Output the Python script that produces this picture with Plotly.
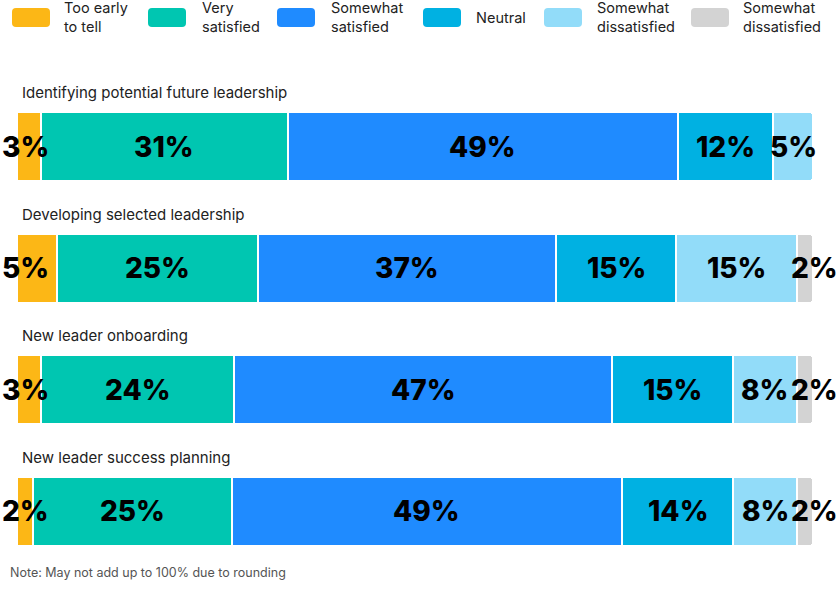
import numpy as np
import plotly.graph_objects as go

categories = ["Identifying potential future leadership",
              "Developing selected leadership",
              "New leader onboarding",
              "New leader success planning"]
series_names = ["Too early<br>to tell", "Very<br>satisfied", "Somewhat<br>satisfied",
                "Neutral", "Somewhat<br>dissatisfied", "Somewhat<br>dissatisfied"]
too_early = [3, 5, 3, 2]
very_satisfied = [31, 25, 24, 25]
somewhat_satisfied = [49, 37, 47, 49]
neutral = [12, 15, 15, 14]
somewhat_dissatisfied = [5, 15, 8, 8]
dissatisfied = [0, 2, 2, 2]
colors = ["#FCB716", "#00C6B1", "#1F8BFF", "#00B1E2", "#92DCF9", "#D3D3D3"]
note = "Note: May not add up to 100% due to rounding"

series = [too_early, very_satisfied, somewhat_satisfied, neutral,
          somewhat_dissatisfied, dissatisfied]
vals = np.array(series, dtype=float)
totals = vals.sum(axis=0)
norm = vals / totals * 100

FONT = "Inter"
fig = go.Figure()
for i, name in enumerate(series_names):
    xs = [v if v > 0 else None for v in norm[i]]
    fig.add_trace(go.Bar(
        y=categories, x=xs, orientation="h", name=name.replace("<br>", " "),
        marker=dict(color=colors[i], line=dict(color="white", width=2)),
        hoverinfo="skip", showlegend=False, width=0.57))

annotations = []
cum = np.zeros(len(categories))
for i in range(len(series)):
    for j, cat in enumerate(categories):
        v = series[i][j]
        if v > 0:
            lab = dict(text=f"{v}%", yref="y", y=cat, xref="x", showarrow=False,
                       font=dict(family=FONT, size=28, color="#000", weight=800),
                       yanchor="middle")
            if i == 0:
                lab.update(x=0, xanchor="left", xshift=-17)
            elif i == len(series) - 1:
                lab.update(x=100, xanchor="right", xshift=27)
            else:
                lab.update(x=cum[j] + norm[i][j] / 2, xanchor="center")
            annotations.append(lab)
    cum += norm[i]

for cat in categories:
    annotations.append(dict(text=cat, xref="x", x=0, xanchor="left", xshift=3,
                            yref="y", y=cat, yanchor="middle", yshift=54,
                            showarrow=False,
                            font=dict(family=FONT, size=15, color="#222")))

annotations.append(dict(text=note, xref="paper", x=-9 / 796, xanchor="left",
                        yref="paper", y=0, yanchor="middle", yshift=0, showarrow=False,
                        font=dict(family=FONT, size=12.5, color="#555")))

# custom legend
shapes = []
box_x = [12, 148, 277, 423, 544, 691]
text_x = [62, 200, 329, 474, 595, 741]
W, H = 840, 596
ml, mr, mt, mb = 17, 27, 86, 24
pw, ph = W - ml - mr, H - mt - mb
def px(x):
    return (x - ml) / pw
def py(y):
    return 1 - (y - mt) / ph
for i, name in enumerate(series_names):
    x0, x1, y0, y1 = box_x[i], box_x[i] + 38, 8, 27
    r = 4
    path = (f"M {px(x0+r)},{py(y0)} L {px(x1-r)},{py(y0)} Q {px(x1)},{py(y0)} {px(x1)},{py(y0+r)} "
            f"L {px(x1)},{py(y1-r)} Q {px(x1)},{py(y1)} {px(x1-r)},{py(y1)} "
            f"L {px(x0+r)},{py(y1)} Q {px(x0)},{py(y1)} {px(x0)},{py(y1-r)} "
            f"L {px(x0)},{py(y0+r)} Q {px(x0)},{py(y0)} {px(x0+r)},{py(y0)} Z")
    shapes.append(dict(type="path", xref="paper", yref="paper", path=path,
                       fillcolor=colors[i], line=dict(width=0)))
    annotations.append(dict(text=name, xref="paper", x=px(text_x[i]), xanchor="left",
                            yref="paper", y=py(17.5), yanchor="middle", showarrow=False,
                            align="left",
                            font=dict(family=FONT, size=14.5, color="#222")))

fig.update_layout(
    width=W, height=H, barmode="stack", bargap=0, barcornerradius=4,
    margin=dict(l=ml, r=mr, t=mt, b=mb),
    plot_bgcolor="white", paper_bgcolor="white",
    xaxis=dict(range=[0, 100], autorange=False, visible=False, fixedrange=True),
    yaxis=dict(categoryorder="array", categoryarray=categories, autorange=False,
               visible=False, range=[3.5, -0.5]),
    annotations=annotations, shapes=shapes, showlegend=False,
)
fig.write_html("out.html")
